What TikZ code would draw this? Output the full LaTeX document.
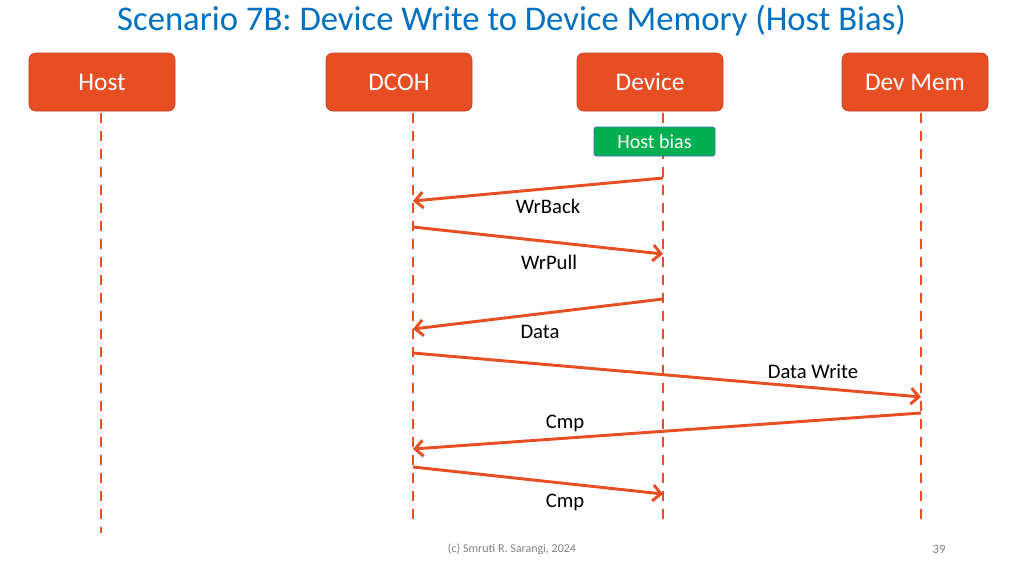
\documentclass[tikz,border=0pt]{standalone}
\usepackage{fontspec}
\setmainfont{Carlito}
\usetikzlibrary{arrows.meta}
\definecolor{boxred}{RGB}{232,78,36}
\definecolor{biasgreen}{RGB}{0,176,80}
\definecolor{biasedge}{RGB}{46,117,182}
\definecolor{titleblue}{RGB}{0,112,192}

\begin{document}
\begin{tikzpicture}[x=.75pt, y=-.75pt,
  ent/.style={fill=boxred, draw=boxred!85!black, line width=.5pt, rounded corners=5pt, minimum width=109.5pt, minimum height=43.5pt, text=white, font=\fontsize{19}{22}\selectfont},
  life/.style={boxred, line width=1.9pt, dash pattern=on 7.5pt off 6pt},
  msg/.style={boxred, line width=2.2pt, -{Straight Barb[length=6pt,width=12pt]}},
  lbl/.style={font=\fontsize{15.5}{18}\selectfont, inner sep=1pt}]
\useasboundingbox (0,0) rectangle (1024,576);
\node[text=titleblue, font=\fontsize{26}{30}\selectfont] (title) at (511.5,21) {Scenario 7B: Device Write to Device Memory (Host Bias)};

% entities and their lifelines
\foreach \n/\bx/\lx/\t/\e in {host/102/101/Host/533, dcoh/399/413/DCOH/525, dev/650/663/Device/525, mem/915/921/Dev Mem/525} {
  \node[ent] (\n) at (\bx,82) {\t};
  \coordinate (\n top) at (\lx,113);
  \coordinate (\n bot) at (\lx,\e);
  \draw[life] (\n top) -- (\n bot);
}
\node[fill=biasgreen, draw=biasedge, line width=.6pt, rounded corners=2pt, minimum width=90.75pt, minimum height=21.75pt, text=white, font=\fontsize{15}{17}\selectfont] (bias) at (654.5,141.5) {Host bias};

% messages
\foreach \i/\xa/\ya/\xb/\yb/\t/\tx/\ty in {
  1/663/178/413/201/WrBack/548/206,
  2/413/227/663/254/WrPull/549/262,
  3/663/299/413/329/Data/540/332,
  4/413/353/921/397/Data Write/813/371,
  5/921/413/413/449/Cmp/565/423,
  6/413/467/663/494/Cmp/565/502} {
  \coordinate (m\i a) at (\xa,\ya);
  \coordinate (m\i b) at (\xb,\yb);
  \draw[msg] (m\i a) -- (m\i b);
  \node[lbl] (l\i) at (\tx,\ty) {\t};
}

\node[text=black!50, font=\fontsize{9}{11}\selectfont] (credit) at (512,549) {(c) Smruti R. Sarangi, 2024};
\node[text=black!50, font=\fontsize{9.5}{11}\selectfont] (page) at (939,549) {39};
\end{tikzpicture}
\end{document}
